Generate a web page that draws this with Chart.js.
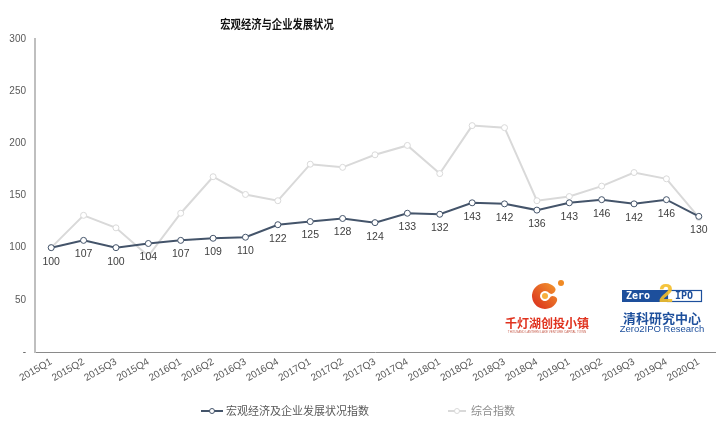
<!DOCTYPE html>
<html><head><meta charset="utf-8">
<script src="https://cdn.jsdelivr.net/npm/chart.js@4/dist/chart.umd.min.js"></script>
<style>html,body{margin:0;padding:0;background:#fff}#wrap{width:723px;height:426px;position:relative}</style>
</head><body><div id="wrap"><canvas id="c"></canvas></div>
<script>
const categories = ['2015Q1','2015Q2','2015Q3','2015Q4','2016Q1','2016Q2','2016Q3','2016Q4','2017Q1','2017Q2','2017Q3','2017Q4','2018Q1','2018Q2','2018Q3','2018Q4','2019Q1','2019Q2','2019Q3','2019Q4','2020Q1'];
const macroIndex = [100,107,100,104,107,109,110,122,125,128,124,133,132,143,142,136,143,146,142,146,130];
const compositeIndex = [100,131,119,92,133,168,151,145,180,177,189,198,171,217,215,145,149,159,172,166,129];
const yTickValues = [0,50,100,150,200,250,300];
const titleText = '宏观经济与企业发展状况';
const seriesNames = ['宏观经济及企业发展状况指数','综合指数'];
const logoTextA = ['千灯湖创投小镇','THOUSAND LANTERN LAKE VENTURE CAPITAL TOWN'];
const logoTextB = ['Zero','2','IPO','清科研究中心','Zero2IPO Research'];

const DARK = '#44546A', LIGHT = '#D9D9D9';
const CJK = '"Noto Sans CJK SC", sans-serif';
const LAT = '"Liberation Sans", Arial, sans-serif';

const decor = {
  id: 'decor',
  afterDatasetsDraw(chart) {
    const ctx = chart.ctx;
    const meta = chart.getDatasetMeta(0);
    ctx.save();
    ctx.font = '10.5px ' + LAT;
    ctx.fillStyle = '#404040';
    ctx.textAlign = 'center';
    ctx.textBaseline = 'middle';
    meta.data.forEach((pt, i) => {
      ctx.fillText(String(macroIndex[i]), pt.x, pt.y + 14);
    });
    ctx.restore();
  },
  afterDraw(chart) {
    const ctx = chart.ctx;
    // title
    ctx.save();
    ctx.translate(277, 24);
    ctx.scale(0.86, 1);
    ctx.font = 'bold 12px ' + CJK;
    ctx.fillStyle = '#111';
    ctx.textAlign = 'center';
    ctx.textBaseline = 'middle';
    ctx.fillText(titleText, 0, 0);
    ctx.restore();

    // legend
    ctx.save();
    ctx.font = '11px ' + CJK;
    ctx.textBaseline = 'middle';
    const w1 = ctx.measureText(seriesNames[0]).width;
    const w2 = ctx.measureText(seriesNames[1]).width;
    const total = 22 + 3 + w1 + 79 + 18 + 5 + w2;
    let x = 358 - total / 2;
    const ly = 411;
    const marker = (x0, len, color) => {
      ctx.strokeStyle = color; ctx.lineWidth = 2;
      ctx.beginPath(); ctx.moveTo(x0, ly); ctx.lineTo(x0 + len, ly); ctx.stroke();
      ctx.fillStyle = '#fff'; ctx.lineWidth = 1;
      ctx.beginPath(); ctx.arc(x0 + len / 2, ly, 2.5, 0, Math.PI * 2); ctx.fill(); ctx.stroke();
    };
    marker(x, 22, DARK);
    ctx.fillStyle = '#595959';
    ctx.fillText(seriesNames[0], x + 25, ly);
    x += 25 + w1 + 79;
    marker(x, 18, LIGHT);
    ctx.fillStyle = '#8c8c8c';
    ctx.fillText(seriesNames[1], x + 23, ly);
    ctx.restore();

    // logo A (swirl + text)
    ctx.save();
    const g = ctx.createLinearGradient(532, 310, 558, 284);
    g.addColorStop(0, '#d8261c'); g.addColorStop(1, '#f39a2e');
    ctx.strokeStyle = g; ctx.lineWidth = 8; ctx.lineCap = 'round';
    ctx.beginPath(); ctx.arc(545, 296, 9, 0.15 * Math.PI, 1.75 * Math.PI); ctx.stroke();
    ctx.fillStyle = '#f7b040';
    ctx.beginPath(); ctx.arc(545, 296, 3, 0, Math.PI * 2); ctx.fill();
    ctx.fillStyle = '#f08a24';
    ctx.beginPath(); ctx.arc(561, 283, 3, 0, Math.PI * 2); ctx.fill();
    ctx.fillStyle = '#e0321e';
    ctx.font = 'bold 12px ' + CJK;
    ctx.textAlign = 'center'; ctx.textBaseline = 'middle';
    ctx.fillText(logoTextA[0], 547, 323);
    ctx.font = '3px ' + LAT;
    ctx.fillStyle = '#c86050';
    ctx.fillText(logoTextA[1], 547, 332);
    ctx.restore();

    // logo B
    ctx.save();
    const BLUE = '#1d4f9c';
    ctx.fillStyle = BLUE;
    ctx.fillRect(622, 290, 45, 12);
    ctx.strokeStyle = BLUE; ctx.lineWidth = 1.2;
    ctx.strokeRect(667.5, 290.5, 34, 11);
    ctx.font = 'bold 10px "DejaVu Sans Mono", monospace';
    ctx.textBaseline = 'middle';
    ctx.textAlign = 'left';
    ctx.fillStyle = '#fff';
    ctx.fillText(logoTextB[0], 626, 296.5);
    ctx.fillStyle = BLUE;
    ctx.fillText(logoTextB[2], 675, 296.5);
    ctx.font = 'bold 26px ' + LAT;
    ctx.fillStyle = 'rgba(244,190,40,0.9)';
    ctx.textAlign = 'center';
    ctx.fillText(logoTextB[1], 666, 295);
    ctx.fillStyle = BLUE;
    ctx.font = 'bold 13px ' + CJK;
    ctx.fillText(logoTextB[3], 662, 318);
    ctx.font = '9.5px ' + LAT;
    ctx.fillText(logoTextB[4], 662, 329.5);
    ctx.restore();
  }
};

new Chart(document.getElementById('c'), {
  type: 'line',
  data: {
    labels: categories,
    datasets: [
      { label: seriesNames[0], data: macroIndex, borderColor: DARK, borderWidth: 2,
        pointRadius: 3, pointBackgroundColor: '#fff', pointBorderColor: DARK, pointBorderWidth: 1, tension: 0 },
      { label: seriesNames[1], data: compositeIndex, borderColor: LIGHT, borderWidth: 2,
        pointRadius: 3, pointBackgroundColor: '#fff', pointBorderColor: LIGHT, pointBorderWidth: 1, tension: 0 }
    ]
  },
  options: {
    responsive: true,
    maintainAspectRatio: false,
    animation: false,
    layout: { padding: { top: 39, right: 8, bottom: 40, left: 0 } },
    plugins: { legend: { display: false }, title: { display: false }, tooltip: { enabled: false } },
    scales: {
      x: {
        offset: true,
        grid: { display: false, drawTicks: false },
        border: { display: true, color: '#8a8a8a', width: 1 },
        ticks: { autoSkip: false, minRotation: 30, maxRotation: 30, padding: 4,
                 color: '#595959', font: { size: 10, family: LAT } },
        afterFit(s) { s.height = 34; }
      },
      y: {
        min: 0, max: 300,
        afterBuildTicks(s) { s.ticks = yTickValues.map(v => ({ value: v })); },
        grid: { display: false, drawTicks: false },
        border: { display: true, color: '#bfbfbf', width: 2 },
        ticks: { padding: 9, color: '#595959', font: { size: 10, family: LAT },
                 callback: v => (v === 0 ? '-' : v) },
        afterFit(s) { s.width = 35; }
      }
    }
  },
  plugins: [decor]
});
</script>
</body></html>
